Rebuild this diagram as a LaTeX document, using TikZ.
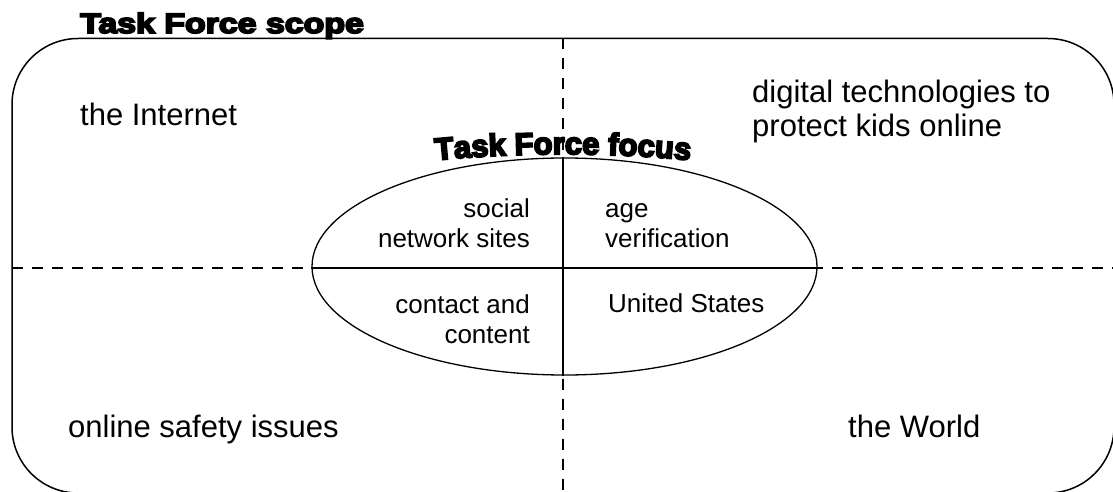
\documentclass[tikz,border=0pt]{standalone}
\usepackage{fontspec}
\setmainfont{Liberation Sans}
\newfontfamily\heavyfont[UprightFont={* Bold},FakeBold=6]{Liberation Sans}
\usetikzlibrary{calc,shapes.geometric,decorations.text}
\newcommand{\linew}{1.5pt}
\newcommand{\heavy}[1]{\scalebox{1.21}[1]{\heavyfont #1}}

\begin{document}
\begin{tikzpicture}[x=1pt,y=-1pt,
  outer/.style={font=\fontsize{31}{33}\selectfont,inner sep=0pt,align=left},
  inner/.style={font=\fontsize{26}{30}\selectfont,inner sep=0pt},
  heading/.style={font=\fontsize{28}{30}\selectfont,inner sep=0pt},
  divider/.style={line width=\linew,dash pattern=on 11pt off 9pt}]
\useasboundingbox (0,0) rectangle (1113,492);
% headings
\node[heading,anchor=base west] (scope) at (80,33) {\heavy{Task Force scope}};
\coordinate (arcl) at (428,161);
\coordinate (arcr) at (698,161);
\path[decorate,decoration={text along path,text align=center,
  text={|\heavyfont\fontsize{31}{33}\selectfont|Task Force focus}}]
  (arcl) .. controls (514,152) and (612,152) .. (arcr);
% scope box and the two dashed axes
\draw[line width=\linew,rounded corners=66pt] (12,38.5) rectangle (1114,493);
\coordinate (top) at (563,38.5);
\coordinate (bottom) at (563,492);
\coordinate (left) at (12,268);
\coordinate (right) at (1113,268);
\draw[divider] (top) -- (bottom);
\draw[divider] (left) -- (right);
% focus ellipse
\node[draw,ellipse,line width=1.3pt,minimum width=505pt,minimum height=217pt,inner sep=0pt] (focus) at (564.5,266.5) {};
\fill[white] (focus.west |- left) ++(2,-1.5) rectangle ($(focus.east |- left)+(-2,1.5)$);
\fill[white] (top |- focus.north) ++(-1.5,2) rectangle ($(top |- focus.south)+(1.5,-2)$);
\draw[line width=1.3pt] (focus.west |- left) -- (focus.east |- left);
\draw[line width=1.3pt] (top |- focus.north) -- (top |- focus.south);
% quadrant labels
\node[outer,anchor=base west] (internet) at (80,125) {the Internet};
\node[outer,anchor=base west] (digital) at (752,136) {digital technologies to\\protect kids online};
\node[outer,anchor=base west] (safety) at (68,437) {online safety issues};
\node[outer,anchor=base west] (world) at (848,437) {the World};
% inside the ellipse
\node[inner,align=right,anchor=base east] (sns) at (530,247) {social\\network sites};
\node[inner,align=left,anchor=base west] (age) at (605,247) {age\\verification};
\node[inner,align=right,anchor=base east] (contact) at (530,343) {contact and\\content};
\node[inner,anchor=base west] (us) at (608,312) {United States};
\end{tikzpicture}
\end{document}
